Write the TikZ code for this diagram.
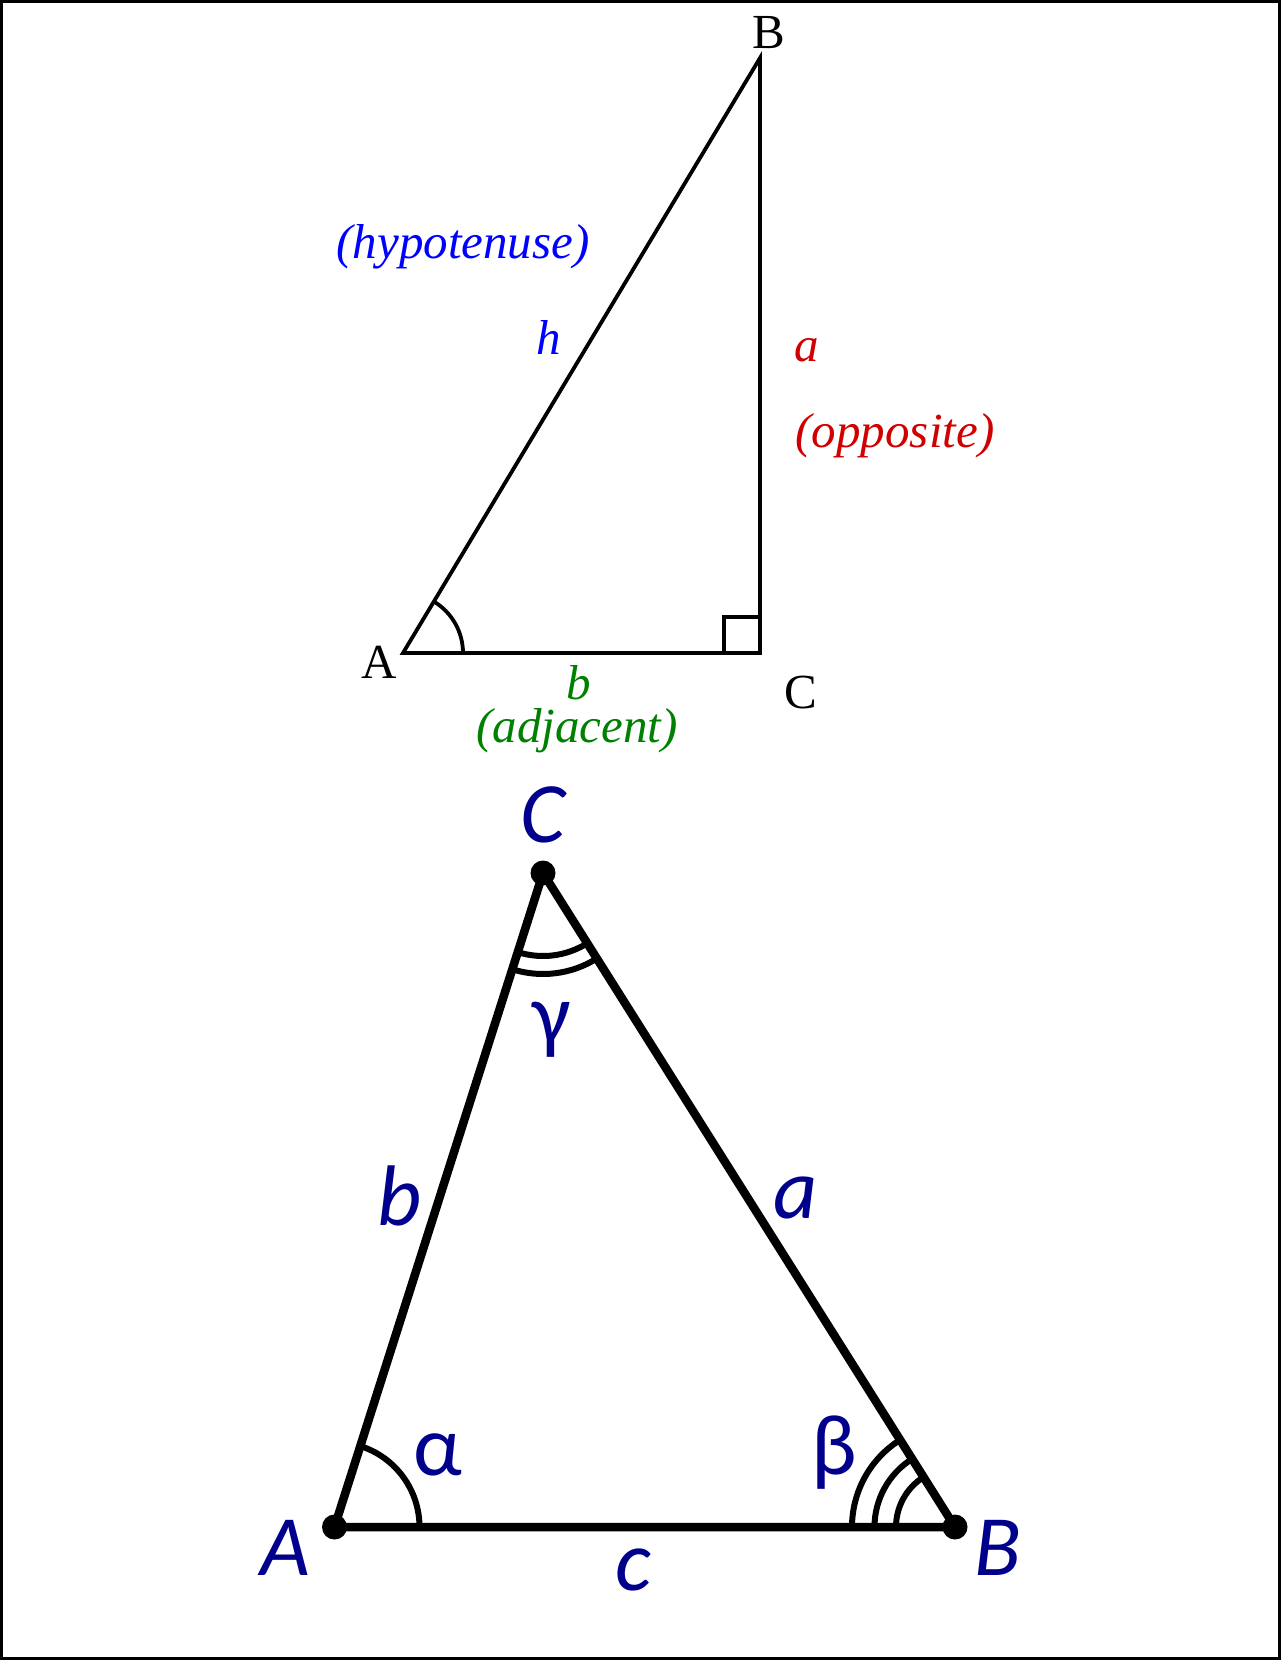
\documentclass[tikz,border=0pt]{standalone}
\usepackage{fontspec}
\setmainfont{Liberation Serif}
\newfontfamily\lblfont{Carlito}
\usetikzlibrary{calc}
\definecolor{hypblue}{RGB}{0,0,255}
\definecolor{oppred}{RGB}{208,0,0}
\definecolor{adjgreen}{RGB}{0,128,0}
\definecolor{navy}{RGB}{0,0,140}
\tikzset{
  thinline/.style={line width=3.8pt, line join=miter},
  thickline/.style={line width=8.5pt, line join=round, line cap=round},
  arcline/.style={line width=6pt},
  serlbl/.style={inner sep=0pt, font=\fontsize{49}{50}\selectfont},
  itlbl/.style={inner sep=0pt, font=\fontsize{49}{50}\selectfont\itshape},
  sanslbl/.style={inner sep=0pt, text=navy, font=\fontsize{86}{90}\selectfont\lblfont\itshape},
  greeklbl/.style={inner sep=0pt, text=navy, font=\fontsize{86}{90}\selectfont\lblfont},
  vdot/.style={circle, fill=black, inner sep=0pt, minimum size=25pt}
}
\begin{document}
\begin{tikzpicture}[x=1pt,y=-1pt]
\useasboundingbox (0,0) rectangle (1281,1660);
\draw[line width=3pt] (1.5,1.5) rectangle (1279.5,1658.5);
% ---------- top right triangle ----------
\coordinate (tA) at (403,653);
\coordinate (tB) at (760,58);
\coordinate (tC) at (760,653);
\draw[thinline] (tA) -- (tB) -- (tC) -- cycle;
\draw[thinline] ($(tC)+(-36,0)$) -- ++(0,-36) -- ++(36,0);
\draw[thinline] ($(tA)+(60,0)$) arc[start angle=0, end angle=-59, radius=60];
\node[serlbl] (lB) at (769,33) {B};
\node[serlbl] (lA) at (379,662) {A};
\node[serlbl] (lC) at (801,693) {C};
\node[itlbl, text=hypblue] (hyp) at (463,247) {(hypotenuse)};
\node[itlbl, text=hypblue] (h) at (549,337) {h};
\node[itlbl, text=oppred] (a) at (807,350) {a};
\node[itlbl, text=oppred] (opp) at (895,436) {(opposite)};
\node[itlbl, text=adjgreen] (b) at (579,683) {b};
\node[itlbl, text=adjgreen] (adj) at (577,731) {(adjacent)};
% ---------- bottom general triangle ----------
\coordinate (A) at (334.5,1527);
\coordinate (B) at (955,1527);
\coordinate (C) at (543,873);
\draw[thickline] (A) -- (B) -- (C) -- cycle;
\draw[arcline] ($(A)+(85,0)$) arc[start angle=0, end angle=-72.3, radius=85];
\foreach \r in {59,80.5,103}
  \draw[arcline] ($(B)+(-\r,0)$) arc[start angle=180, end angle=237.8, radius=\r];
\foreach \r in {83,101}
  \draw[arcline] ($(C)+(107.7:\r)$) arc[start angle=107.7, end angle=57.8, radius=\r];
\node[vdot] (dA) at (A) {};
\node[vdot] (dB) at (B) {};
\node[vdot] (dC) at (C) {};
\node[sanslbl] (LC) at (543,815) {C};
\node[sanslbl] (LA) at (285,1548) {A};
\node[sanslbl] (LB) at (998,1548) {B};
\node[sanslbl] (Lb) at (400,1196) {b};
\node[sanslbl] (La) at (796,1198) {a};
\node[sanslbl] (Lc) at (633,1570) {c};
\node[greeklbl] (Lal) at (438,1455) {α};
\node[greeklbl] (Lbe) at (834,1453) {β};
\node[greeklbl] (Lga) at (552,1030) {γ};
\end{tikzpicture}
\end{document}
